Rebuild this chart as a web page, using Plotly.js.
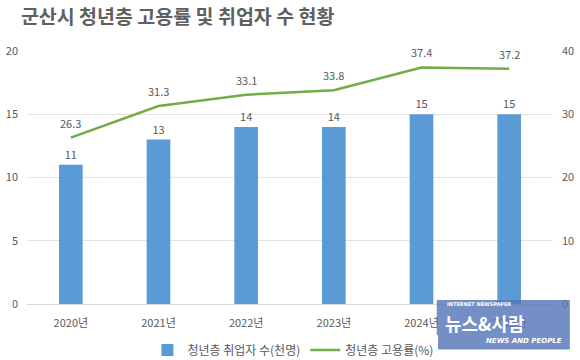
<!DOCTYPE html>
<html><head><meta charset="utf-8">
<script src="https://cdn.plot.ly/plotly-3.0.1.min.js"></script>
<style>html,body{margin:0;padding:0;background:#fff;}#c{width:580px;height:360px;}</style>
</head><body><div id="c"></div>
<script>
var years = ["2020년","2021년","2022년","2023년","2024년","2025년"];
var employed = [11, 13, 14, 14, 15, 15];
var rate = [26.3, 31.3, 33.1, 33.8, 37.4, 37.2];
var employedName = "청년층 취업자 수(천명)";
var rateName = "청년층 고용률(%)";
var F = "'Noto Sans CJK KR', 'Noto Sans', sans-serif";
var txt = "#595959";

var traces = [
  {type:"bar", x:years, y:employed, name:employedName, marker:{color:"#5B9BD5"},
   width:0.27, text:employed.map(String), textposition:"outside", cliponaxis:false,
   textfont:{family:F,size:11,color:txt}, yaxis:"y"},
  {type:"scatter", mode:"lines", x:years, y:rate, name:rateName,
   line:{color:"#70AD47", width:2.5}, yaxis:"y2", cliponaxis:false}
];

var rateLabels = rate.map(function(v, i){
  return {x:years[i], y:v, xref:"x", yref:"y2", text:v.toFixed(1), showarrow:false,
    yshift:15, font:{family:F,size:11,color:txt}};
});

var layout = {
  width:580, height:360, paper_bgcolor:"#fff", plot_bgcolor:"#fff",
  margin:{l:27, r:27, t:51, b:56},
  font:{family:F, color:txt, size:11},
  title:{text:"<b>군산시 청년층 고용률 및 취업자 수 현황</b>", font:{family:F,size:19.5,color:"#5f5f5f"},
    xref:"container", x:0.036, xanchor:"left", yref:"container", y:0.952, yanchor:"middle"},
  showlegend:true,
  legend:{orientation:"h", xref:"container", x:0.505, xanchor:"center", yref:"container", y:0.028, yanchor:"middle",
    font:{family:F,size:12,color:txt}, traceorder:"normal"},
  bargap:0.73,
  xaxis:{type:"category", showgrid:false, showline:true, linecolor:"#D9D9D9", linewidth:1,
    ticks:"", tickfont:{family:F,size:11,color:txt}, zeroline:false, ticklabelstandoff:9},
  yaxis:{range:[0,20], dtick:5, showgrid:true, gridcolor:"#E3E3E3", zeroline:false,
    ticks:"", tickfont:{family:F,size:11,color:txt}, ticklabelstandoff:8, showline:false},
  yaxis2:{range:[0,40], dtick:10, overlaying:"y", side:"right", showgrid:false, zeroline:false,
    ticks:"", tickfont:{family:F,size:11,color:txt}, ticklabelstandoff:8},
  shapes:[{type:"rect", xref:"paper", yref:"paper", x0:0.779, x1:1.032, y0:0.016, y1:-0.18,
    fillcolor:"rgba(85,118,186,0.82)", line:{width:0}, layer:"above"}],
  annotations:rateLabels.concat([
    {xref:"paper", yref:"paper", x:0.795, y:0.0, xanchor:"left", yanchor:"middle", showarrow:false,
     text:"<b>INTERNET NEWSPAPER</b>", font:{family:"DejaVu Sans",size:5,color:"#fff"}},
    {xref:"paper", yref:"paper", x:0.79, y:-0.075, xanchor:"left", yanchor:"middle", showarrow:false,
     text:"<b>뉴스&amp;사람</b>", font:{family:F,size:18,color:"#fff"}},
    {xref:"paper", yref:"paper", x:1.02, y:-0.145, xanchor:"right", yanchor:"middle", showarrow:false,
     text:"<b><i>NEWS AND PEOPLE</i></b>", font:{family:"DejaVu Sans",size:7,color:"#fff"}}
  ])
};
Plotly.newPlot("c", traces, layout, {displayModeBar:false, staticPlot:true});
</script></body></html>
